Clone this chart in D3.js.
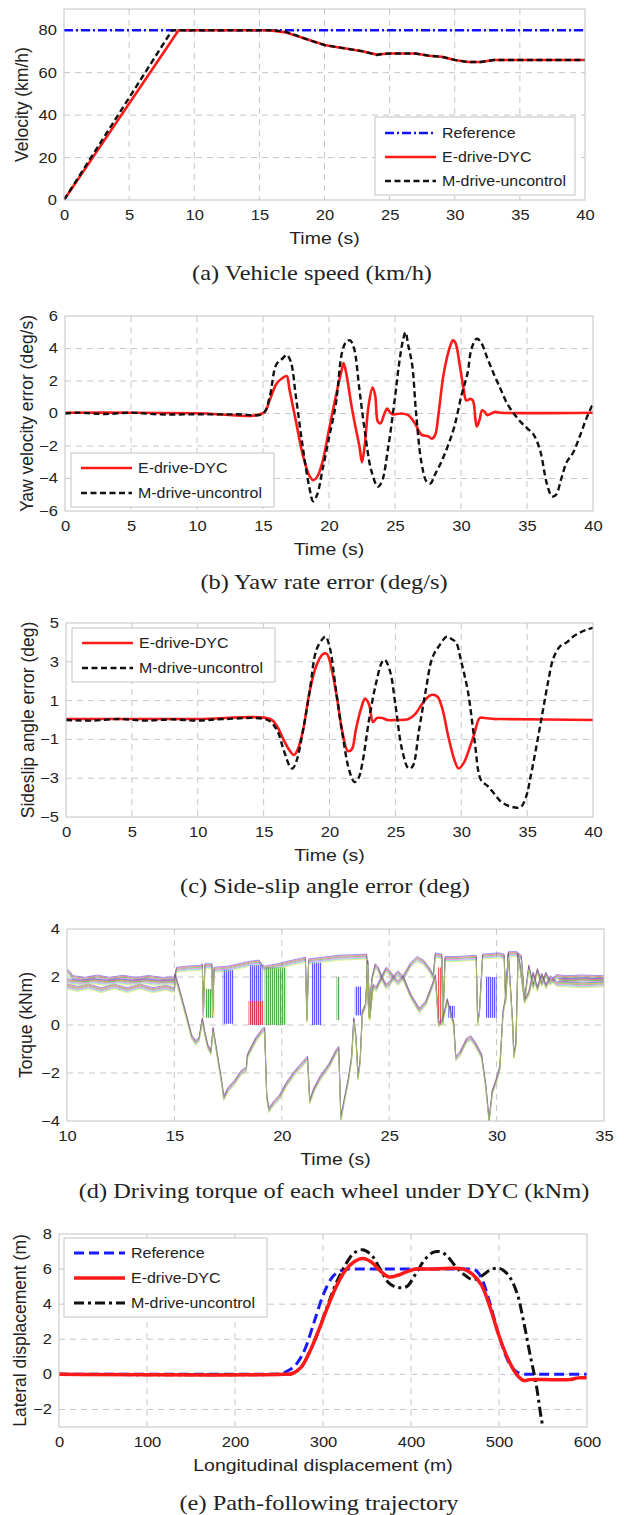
<!DOCTYPE html>
<html>
<head>
<meta charset="utf-8">
<script src="https://cdnjs.cloudflare.com/ajax/libs/d3/7.8.5/d3.min.js"></script>
<style>
body { margin: 0; background: #fff; }
svg { display: block; }
.tick text { font-family: "Liberation Sans", Arial, sans-serif; font-size: 14px; fill: #222; }
.grid line { stroke: #c6c6c6; stroke-width: 1; stroke-dasharray: 6,5; }
.box { fill: none; stroke: #c4c4c4; stroke-width: 1; }
.atitle { font-family: "Liberation Sans", Arial, sans-serif; font-size: 16.5px; fill: #222; }
.ytitle { font-family: "Liberation Sans", Arial, sans-serif; font-size: 17.5px; fill: #222; }
.caption { font-family: "Liberation Serif", "Times New Roman", serif; font-size: 20px; fill: #222; }
.legend text { font-family: "Liberation Sans", Arial, sans-serif; font-size: 14.5px; fill: #222; }
</style>
</head>
<body>
<svg id="fig" width="624" height="1515"></svg>
<script>
// ---- (a) vehicle speed, [time s, km/h]
var speedRef = [[0, 80], [40, 80]];
var speedDYC = [[0,0],[8.8,80],[15.5,80],[16,79.8],[17,79],[18,77],[19,75],[20,73],[21,72],[22,71],[23,70],[24,68.5],[24.5,68.8],[25,69],[26,69],[27,69],[28,68],[29,67.5],[30,66],[31,65],[32,65],[33,66],[40,66]];
var speedUnc = [[0,0],[8.3,80],[15.5,80],[16,80],[17,79.3],[18,77.2],[19,75],[20,73],[21,72],[22,71],[23,70],[24,68.3],[24.5,68.9],[25,69],[26,69],[27,69],[28,68],[29,67.5],[30,66],[31,65],[32,65],[33,66],[40,66]];

// ---- (b) yaw rate error, [time s, deg/s]
var yawDYC = [[0,0.05],[5,0.05],[10,0.02],[15,0.02],[15.5,0.8],[16,1.8],[16.5,2.2],[16.8,2.3],[17,1.5],[17.5,-0.5],[18,-2.5],[18.5,-3.8],[18.8,-4.1],[19.1,-3.9],[19.5,-3],[20,-1],[20.5,1],[21,2.8],[21.1,3.1],[21.3,2.5],[21.7,0.5],[22,-0.8],[22.3,-2],[22.5,-3],[22.7,-2],[23,0.5],[23.3,1.6],[23.5,1.1],[23.7,-0.5],[23.9,-0.6],[24.2,0],[24.4,0.3],[24.6,0.1],[24.8,-0.05],[25.5,0],[26,-0.1],[26.5,-0.6],[27,-1.3],[27.5,-1.4],[27.8,-1.55],[28.05,-1.3],[28.3,0],[28.7,2.5],[29.2,4.2],[29.4,4.5],[29.6,4.3],[29.9,3],[30.2,1.5],[30.4,0.8],[30.7,0.9],[30.9,0.8],[31.1,-0.4],[31.2,-0.8],[31.4,-0.4],[31.6,0.2],[31.8,0.1],[32,-0.1],[32.3,0],[32.6,0.1],[33,0.05],[40,0.05]];
var yawUnc = [[0,0],[1,0.05],[3,-0.03],[5,0.05],[7,-0.05],[10,-0.05],[13,-0.05],[15,0],[15.5,1],[16,3],[16.5,3.4],[16.8,3.6],[17.1,3.2],[17.5,1],[18,-2],[18.5,-4.5],[18.8,-5.4],[19.1,-5],[19.5,-3.5],[20,-1.5],[20.5,0.5],[21,3.8],[21.3,4.4],[21.6,4.5],[21.9,4],[22.3,1.5],[22.7,-1],[23.2,-3.5],[23.7,-4.5],[24,-4.2],[24.5,-2],[25,1],[25.3,3],[25.6,4.5],[25.8,5],[26,4.2],[26.3,3],[26.6,0],[27,-3],[27.4,-4.2],[27.7,-4.3],[28,-3.8],[28.5,-3],[29,-2],[29.5,-0.8],[30,1],[30.5,2.5],[30.8,4],[31.2,4.6],[31.5,4.4],[32,3.4],[32.5,2.4],[33,1.5],[33.5,0.6],[34,0],[34.5,-0.5],[35,-0.9],[35.5,-1.3],[36,-2.3],[36.5,-4.3],[36.9,-5.1],[37.2,-5],[37.6,-4],[38,-3],[38.5,-2.4],[39,-1.4],[39.5,-0.3],[40,0.6]];

// ---- (c) side-slip angle error, [time s, deg]
var slipDYC = [[0,0.05],[5,0.05],[10,0.05],[15.5,0.05],[16,-0.3],[16.5,-1],[17,-1.6],[17.3,-1.8],[17.6,-1.5],[18,-0.5],[18.5,1.5],[19,2.8],[19.5,3.4],[19.8,3.4],[20.2,2.5],[20.6,1],[21,-0.7],[21.4,-1.6],[21.7,-1.5],[22,-0.5],[22.4,0.6],[22.7,1.1],[23,0.8],[23.3,-0.1],[23.6,0.1],[24,0.1],[24.4,0],[25,0],[26,0.05],[26.5,0.3],[27,0.8],[27.5,1.2],[27.8,1.3],[28.2,1.2],[28.6,0.5],[29,-0.8],[29.5,-2.1],[29.8,-2.5],[30.2,-2.2],[30.6,-1.5],[31,-0.7],[31.4,0.1],[31.8,0.1],[32.5,0.05],[33,0.05],[40,0]];
var slipUnc = [[0,0],[2,-0.03],[4,0.05],[6,-0.03],[8,0.03],[10,-0.03],[12,0.05],[15.3,0],[16,-0.5],[16.5,-1.5],[17,-2.4],[17.2,-2.5],[17.5,-2.1],[18,-0.5],[18.5,1.5],[19,3.6],[19.5,4.2],[19.7,4.3],[20,3.8],[20.5,1.5],[21,-0.8],[21.5,-2.6],[21.9,-3.2],[22.2,-3],[22.5,-2.2],[23,0],[23.5,1.8],[24,3],[24.2,3.1],[24.6,2.5],[25,0.8],[25.5,-1.5],[26,-2.5],[26.3,-2.4],[26.8,-0.5],[27.3,1.5],[27.8,3.2],[28.3,3.8],[28.9,4.3],[29.2,4.2],[29.6,4],[30,3],[30.5,1.5],[31,-1],[31.5,-3.1],[32,-3.4],[32.5,-3.8],[33,-4.2],[33.5,-4.4],[34,-4.5],[34.5,-4.5],[34.9,-4],[35.3,-2.8],[35.8,-1],[36.2,0.5],[36.6,2],[37,3.2],[37.5,3.8],[38,4],[38.5,4.3],[39,4.5],[39.5,4.65],[40,4.75]];

// ---- (d) wheel torque under DYC, [time s, kNm]
var torqueHi = [[10,2.25],[10.3,1.95],[10.8,1.88],[11.4,1.98],[12,1.88],[12.6,1.97],[13.2,1.88],[13.8,1.96],[14.4,1.88],[15,1.9],[15.1,2.3],[15.6,2.35],[16.2,2.38],[16.3,2.45],[16.35,0.4],[16.42,2.45],[16.75,2.45],[16.78,0.5],[16.85,2.3],[17.5,2.35],[18,2.45],[18.5,2.55],[18.95,2.6],[19.1,2.4],[19.2,2.35],[19.8,2.45],[20.5,2.6],[21.1,2.72],[21.17,0.2],[21.25,2.65],[21.7,2.7],[22.2,2.75],[22.6,2.8],[23.2,2.82],[23.95,2.85],[24.05,0.35],[24.2,1.9],[24.35,2.45],[24.5,2.3],[24.65,1.95],[24.85,2.3],[25,2.2],[25.2,1.95],[25.4,2.15],[25.65,1.95],[26,2.5],[26.3,2.75],[26.6,2.6],[26.9,2.25],[27.05,2],[27.15,2.9],[27.45,2.85],[27.5,0.1],[27.6,2.75],[28.2,2.75],[28.7,2.78],[29.05,2.8],[29.12,0.1],[29.2,0.5],[29.35,2.85],[30.1,2.9],[30.35,2.85],[30.42,1],[30.55,2.95],[30.95,2.95],[31.05,2.7],[31.3,1],[31.5,2.4],[31.7,1.6],[31.9,2.25],[32.1,1.7],[32.3,2.1],[32.5,1.75],[32.8,2],[33.2,1.95],[34,1.98],[35,1.95]];
var torqueLo = [[10,1.6],[10.5,1.5],[11,1.6],[11.6,1.45],[12.2,1.6],[12.8,1.45],[13.4,1.6],[14,1.45],[14.6,1.55],[15,1.45],[15.05,2],[15.3,1.2],[15.6,0.2],[15.8,-0.5],[16,-0.75],[16.15,-0.6],[16.3,0.2],[16.4,-0.3],[16.55,-0.9],[16.7,-1.15],[16.8,-0.2],[17,-1.3],[17.2,-2.4],[17.3,-3.05],[17.5,-2.7],[17.8,-2.4],[18.1,-2],[18.35,-1.85],[18.4,-1.3],[18.8,-0.6],[19.1,-0.25],[19.2,-0.2],[19.3,-3],[19.4,-3.55],[19.6,-3.3],[19.9,-3],[20.2,-2.5],[20.6,-2],[21,-1.6],[21.2,-1.4],[21.3,-3.2],[21.5,-2.7],[21.8,-2.2],[22.2,-1.7],[22.55,-1.1],[22.65,-1],[22.75,-3.9],[22.9,-3.2],[23.1,-2.3],[23.25,-1.4],[23.35,0.2],[23.45,-0.5],[23.55,-2.2],[23.65,-1.5],[23.75,0.5],[23.9,0.8],[24,2.6],[24.1,0.3],[24.25,1.6],[24.4,1.5],[24.65,1.95],[24.85,1.6],[25,1.7],[25.2,1.95],[25.4,1.75],[25.65,1.95],[26,1.2],[26.4,0.6],[26.7,0.9],[27,1.6],[27.15,2],[27.3,0],[27.5,0.2],[27.7,1],[28,0.05],[28.1,-1.4],[28.3,-1.2],[28.6,-0.65],[28.8,-0.55],[29,-0.8],[29.3,-1.3],[29.5,-2.6],[29.65,-4],[29.8,-2.8],[30,-2.3],[30.15,-1.8],[30.3,0.5],[30.4,1],[30.55,2.9],[30.75,0],[30.8,-1.3],[30.9,-0.8],[31,2.9],[31.15,2.8],[31.3,1],[31.5,1.3],[31.7,2.1],[31.9,1.5],[32.1,2.05],[32.3,1.6],[32.5,1.95],[32.8,1.7],[33.2,1.7],[34,1.65],[35,1.7]];
var torqueMidPre = [[10,1.82],[10.6,1.76],[11.2,1.82],[11.8,1.76],[12.4,1.82],[13,1.76],[13.6,1.82],[14.2,1.76],[15,1.78]];
var torqueMidPost = [[32.9,1.85],[33.5,1.82],[34,1.86],[34.5,1.83],[35,1.85]];
// switching bands: [t0, t1, low, high, colour index]
var torqueChatter = [[16.45,16.85,0.3,1.5,2],[17.25,17.75,0.05,2.3,0],[18.5,19.1,0,2.5,0],[18.45,19.15,0,1,1],[19.2,20.2,0,2.4,2],[21.4,21.85,0,2.6,0],[22.55,22.7,0.2,2,2],[23.4,23.7,0.4,1.6,0],[27.25,27.45,0,2.4,1],[27.75,28.05,0.3,0.8,0],[29.5,30,0.3,2,0]];
var torqueColors = ["#3030ff", "#ff3030", "#1f9a1f", "#e040e0", "#2ccaca", "#d8d82a"];

// ---- (e) path following, [longitudinal m, lateral m]
var pathRef = [[0,0],[250,0],[260,0.2],[270,0.6],[280,1.5],[290,3],[300,4.5],[310,5.5],[320,5.9],[330,6],[470,6],[480,5.5],[490,4],[500,2.2],[510,0.8],[520,0.15],[530,0],[600,0]];
var pathDYC = [[0,0],[255,0],[265,0.05],[275,0.4],[285,1.3],[295,2.5],[305,3.8],[315,5],[325,5.9],[335,6.4],[345,6.6],[355,6.4],[365,5.9],[375,5.55],[385,5.65],[395,5.85],[405,6],[420,6],[460,6],[470,5.7],[480,5.1],[490,3.8],[500,2.2],[510,0.9],[520,0],[528,-0.35],[535,-0.3],[560,-0.3],[580,-0.3],[590,-0.2],[600,-0.2]];
var pathUnc = [[0,0],[250,0],[265,0.05],[275,0.4],[285,1.3],[295,2.5],[305,3.9],[315,5.2],[325,6.2],[335,6.9],[345,7.1],[355,6.8],[365,6],[375,5.2],[385,4.95],[395,5],[405,5.7],[415,6.5],[425,6.95],[432,7],[440,6.8],[450,6.2],[460,5.7],[470,5.4],[480,5.6],[490,5.95],[500,6.05],[510,5.7],[520,4.7],[528,3],[535,1.2],[542,-0.5],[548,-2.5],[551,-3.3]];

var SX = 1.18; // the source figure is stretched sideways, so is its lettering

var svg = d3.select("svg#fig");
var defs = svg.append("defs");

// hatch patterns for the torque switching bands
torqueColors.forEach(function(c, i) {
  var p = defs.append("pattern").attr("id", "hatch" + i)
    .attr("patternUnits", "userSpaceOnUse").attr("width", 2).attr("height", 10);
  p.append("rect").attr("width", 2).attr("height", 10).attr("fill", c).attr("opacity", 0.25);
  p.append("line").attr("x1", 0.5).attr("x2", 0.5).attr("y1", 0).attr("y2", 10)
    .attr("stroke", c).attr("stroke-width", 1);
});

function panel(o) {
  var x = d3.scaleLinear().domain(o.xDomain).range([o.left, o.right]);
  var y = d3.scaleLinear().domain(o.yDomain).range([o.bottom, o.top]);
  var g = svg.append("g");

  defs.append("clipPath").attr("id", "clip" + o.id).append("rect")
    .attr("x", o.left).attr("y", o.top)
    .attr("width", o.right - o.left).attr("height", o.bottom - o.top);

  var grid = g.append("g").attr("class", "grid");
  grid.selectAll("line.vx")
    .data(o.xTicks.filter(function(d) { return d > o.xDomain[0] && d < o.xDomain[1]; }))
    .enter().append("line")
    .attr("x1", function(d) { return x(d); }).attr("x2", function(d) { return x(d); })
    .attr("y1", o.top).attr("y2", o.bottom);
  grid.selectAll("line.hy")
    .data(o.yTicks.filter(function(d) { return d > o.yDomain[0] && d < o.yDomain[1]; }))
    .enter().append("line")
    .attr("y1", function(d) { return y(d); }).attr("y2", function(d) { return y(d); })
    .attr("x1", o.left).attr("x2", o.right);

  g.append("g").attr("transform", "translate(0," + o.bottom + ")")
    .call(d3.axisBottom(x).tickValues(o.xTicks).tickSize(0).tickPadding(10))
    .call(function(s) {
      s.select(".domain").remove();
      s.selectAll(".tick text").attr("transform", "scale(" + SX + ",1)");
    });
  g.append("g").attr("transform", "translate(" + o.left + ",0)")
    .call(d3.axisLeft(y).tickValues(o.yTicks).tickSize(0).tickPadding(6))
    .call(function(s) {
      s.select(".domain").remove();
      s.selectAll(".tick text").attr("transform", "scale(" + SX + ",1)");
    });

  var plot = g.append("g").attr("clip-path", "url(#clip" + o.id + ")");

  g.append("text").attr("class", "atitle").attr("text-anchor", "middle")
    .attr("transform", "translate(" + (o.left + o.right) / 2 + "," + (o.bottom + 38) + ") scale(" + SX + ",1)")
    .attr("dy", "0.35em").text(o.xTitle);
  g.append("text").attr("class", "ytitle").attr("text-anchor", "middle")
    .attr("transform", "translate(" + o.yTitleX + "," + (o.top + o.bottom) / 2 + ") rotate(-90)")
    .attr("dy", "0.35em").text(o.yTitle);
  g.append("text").attr("class", "caption").attr("text-anchor", "middle")
    .attr("transform", "translate(" + o.capX + "," + o.capY + ") scale(1.22,1)")
    .attr("dy", "0.35em").text(o.caption);

  return { x: x, y: y, g: g, plot: plot, o: o };
}

function addLine(p, data, st, curve) {
  var line = d3.line()
    .x(function(d) { return p.x(d[0]); })
    .y(function(d) { return p.y(d[1]); })
    .curve(curve || d3.curveLinear);
  return p.plot.append("path").datum(data)
    .attr("d", line).attr("fill", "none")
    .attr("stroke", st.color).attr("stroke-width", st.width)
    .attr("stroke-dasharray", st.dash || null)
    .attr("stroke-linejoin", "round");
}

function addBox(p) {
  var o = p.o;
  p.g.append("rect").attr("class", "box").attr("x", o.left).attr("y", o.top)
    .attr("width", o.right - o.left).attr("height", o.bottom - o.top);
}

function legend(p, lx, ly, lw, lh, rows, entries) {
  var lg = p.g.append("g").attr("class", "legend");
  lg.append("rect").attr("x", lx).attr("y", ly).attr("width", lw).attr("height", lh)
    .attr("fill", "#fff").attr("stroke", "#c4c4c4");
  entries.forEach(function(e, i) {
    lg.append("line").attr("x1", lx + 10).attr("x2", lx + 61)
      .attr("y1", rows[i]).attr("y2", rows[i])
      .attr("stroke", e.color).attr("stroke-width", e.width).attr("stroke-dasharray", e.dash || null);
    lg.append("text").attr("transform", "translate(" + (lx + 67) + "," + rows[i] + ") scale(1.1,1)")
      .attr("dy", "0.36em").text(e.label);
  });
}

var stRefA = { color: "#1010ff", width: 2.5, dash: "9,3,2,3" };
var stRed = { color: "#ff1a1a", width: 2.6 };
var stBlackDash = { color: "#111", width: 2.4, dash: "6,3.5" };

// (a)
var pa = panel({ id: "a", left: 64, right: 585, top: 9, bottom: 200,
  xDomain: [0, 40], yDomain: [0, 90], xTicks: d3.range(0, 41, 5), yTicks: [0, 20, 40, 60, 80],
  xTitle: "Time (s)", yTitle: "Velocity (km/h)", yTitleX: 22,
  caption: "(a) Vehicle speed (km/h)", capX: 312, capY: 273 });
addLine(pa, speedRef, stRefA);
addLine(pa, speedDYC, stRed);
addLine(pa, speedUnc, stBlackDash);
addBox(pa);
legend(pa, 375, 117, 200, 78, [133, 157, 181], [
  { label: "Reference", color: stRefA.color, width: 2.5, dash: stRefA.dash },
  { label: "E-drive-DYC", color: stRed.color, width: 2.6 },
  { label: "M-drive-uncontrol", color: "#111", width: 2.4, dash: stBlackDash.dash }]);

// (b)
var pb = panel({ id: "b", left: 65, right: 593, top: 316, bottom: 511,
  xDomain: [0, 40], yDomain: [-6, 6], xTicks: d3.range(0, 41, 5), yTicks: [-6, -4, -2, 0, 2, 4, 6],
  xTitle: "Time (s)", yTitle: "Yaw velocity error (deg/s)", yTitleX: 27,
  caption: "(b) Yaw rate error (deg/s)", capX: 324, capY: 582 });
addLine(pb, yawDYC, stRed, d3.curveCatmullRom);
addLine(pb, yawUnc, stBlackDash, d3.curveCatmullRom);
addBox(pb);
legend(pb, 71, 453, 203, 54, [468, 493], [
  { label: "E-drive-DYC", color: stRed.color, width: 2.6 },
  { label: "M-drive-uncontrol", color: "#111", width: 2.4, dash: stBlackDash.dash }]);

// (c)
var pc = panel({ id: "c", left: 66, right: 593, top: 623, bottom: 817,
  xDomain: [0, 40], yDomain: [-5, 5], xTicks: d3.range(0, 41, 5), yTicks: [-5, -3, -1, 1, 3, 5],
  xTitle: "Time (s)", yTitle: "Sideslip angle error (deg)", yTitleX: 28,
  caption: "(c) Side-slip angle error (deg)", capX: 325, capY: 886 });
addLine(pc, slipDYC, stRed, d3.curveCatmullRom);
addLine(pc, slipUnc, stBlackDash, d3.curveCatmullRom);
addBox(pc);
legend(pc, 72, 628, 203, 54, [643, 668], [
  { label: "E-drive-DYC", color: stRed.color, width: 2.6 },
  { label: "M-drive-uncontrol", color: "#111", width: 2.4, dash: stBlackDash.dash }]);

// (d)
var pd = panel({ id: "d", left: 67, right: 604, top: 929, bottom: 1121,
  xDomain: [10, 35], yDomain: [-4, 4], xTicks: d3.range(10, 36, 5), yTicks: [-4, -2, 0, 2, 4],
  xTitle: "Time (s)", yTitle: "Torque (kNm)", yTitleX: 26,
  caption: "(d) Driving torque of each wheel under DYC (kNm)", capX: 334, capY: 1191 });
torqueChatter.forEach(function(c) {
  pd.plot.append("rect")
    .attr("x", pd.x(c[0])).attr("width", pd.x(c[1]) - pd.x(c[0]))
    .attr("y", pd.y(c[3])).attr("height", pd.y(c[2]) - pd.y(c[3]))
    .attr("fill", "url(#hatch" + c[4] + ")").attr("opacity", 0.8);
});
var shifts = [-2.5, -1.5, -0.5, 0.5, 1.5, 2.5];
[torqueHi, torqueLo, torqueMidPre, torqueMidPost].forEach(function(series) {
  torqueColors.forEach(function(c, i) {
    addLine(pd, series, { color: c, width: 0.7 })
      .attr("transform", "translate(0," + shifts[i] + ")").attr("opacity", 0.75);
  });
});
addBox(pd);

// (e)
var pe = panel({ id: "e", left: 59, right: 587, top: 1234, bottom: 1427,
  xDomain: [0, 600], yDomain: [-3, 8], xTicks: d3.range(0, 601, 100), yTicks: [-2, 0, 2, 4, 6, 8],
  xTitle: "Longitudinal displacement (m)", yTitle: "Lateral displacement (m)", yTitleX: 20,
  caption: "(e) Path-following trajectory", capX: 319, capY: 1503 });
var stRefE = { color: "#1a1aff", width: 3, dash: "10,5" };
var stRedE = { color: "#ff1a1a", width: 3.5 };
var stUncE = { color: "#111", width: 3, dash: "10,4,3,4" };
addLine(pe, pathRef, stRefE, d3.curveMonotoneX);
addLine(pe, pathUnc, stUncE, d3.curveCatmullRom);
addLine(pe, pathDYC, stRedE, d3.curveCatmullRom);
addBox(pe);
legend(pe, 64, 1238, 203, 79, [1253, 1278, 1303], [
  { label: "Reference", color: stRefE.color, width: 3, dash: stRefE.dash },
  { label: "E-drive-DYC", color: stRedE.color, width: 3.5 },
  { label: "M-drive-uncontrol", color: "#111", width: 3, dash: stUncE.dash }]);
</script>
</body>
</html>
